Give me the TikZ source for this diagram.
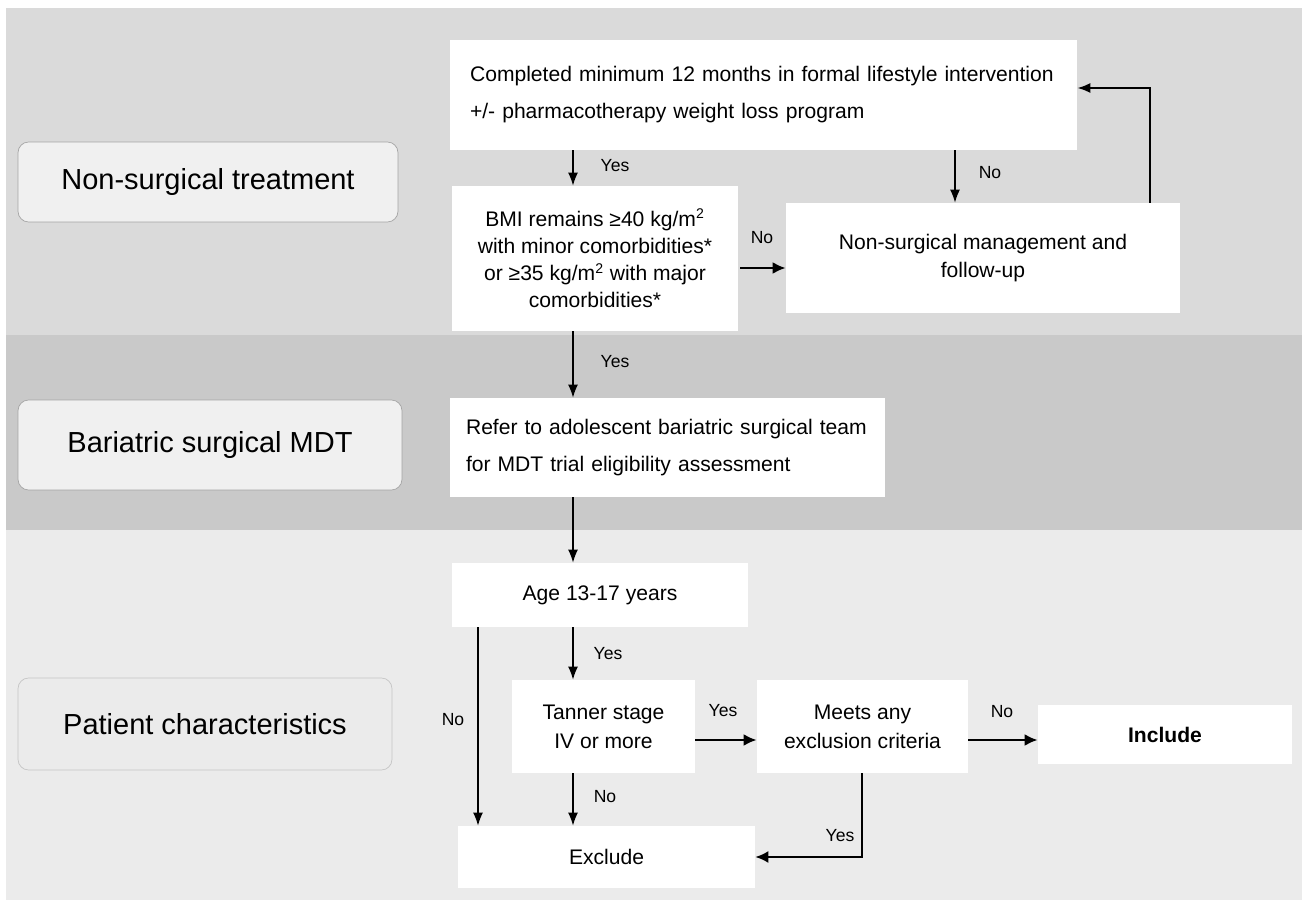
\documentclass[tikz,border=0pt]{standalone}
\usepackage{fontspec}
\setmainfont{Liberation Sans}
\usetikzlibrary{arrows.meta}
\definecolor{bandA}{HTML}{DADADA}
\definecolor{bandB}{HTML}{C9C9C9}
\definecolor{bandC}{HTML}{EBEBEB}
\begin{document}
\begin{tikzpicture}[x=0.02cm,y=-0.02cm,
  box/.style={rectangle,fill=white,inner sep=0pt,align=center,font=\fontsize{12}{15.4}\selectfont},
  phase/.style={rectangle,rounded corners=6pt,draw=gray!70,fill=gray!12,inner sep=0pt,font=\fontsize{16.5}{19}\selectfont},
  lbl/.style={font=\fontsize{10}{11}\selectfont,inner sep=1pt},
  arr/.style={-{Latex[length=2.6mm,width=2mm]},line width=0.8pt},
  harr/.style={-{Latex[length=2.6mm,width=2.4mm]},line width=1.6pt}]
\useasboundingbox (0,0) rectangle (1308,908);
% bands
\fill[bandA] (6,8) rectangle (1302,335);
\fill[bandB] (6,335) rectangle (1302,530);
\fill[bandC] (6,530) rectangle (1302,900);

% phases
\node[phase,minimum width=7.6cm,minimum height=1.6cm] (ph1) at (208,182) {Non-surgical treatment};
\node[phase,minimum width=7.68cm,minimum height=1.8cm] (ph2) at (210,445) {Bariatric surgical MDT};
\node[phase,draw=gray!45,fill=bandC,minimum width=7.48cm,minimum height=1.84cm] (ph3) at (205,724) {Patient characteristics};

% decisions
\node[box,minimum width=12.54cm,minimum height=2.2cm,text width=11.74cm,align=left,font=\fontsize{12}{21}\selectfont] (prog) at (763.5,95)
  {Completed minimum 12 months in formal lifestyle intervention\\ +/- pharmacotherapy weight loss program};
\node[box,minimum width=5.72cm,minimum height=2.9cm] (bmi) at (595,258.5)
  {BMI remains ≥40 kg/m\textsuperscript{2}\\ with minor comorbidities*\\ or ≥35 kg/m\textsuperscript{2} with major\\ comorbidities*};
\node[box,minimum width=7.88cm,minimum height=2.2cm,font=\fontsize{12}{16}\selectfont] (mgmt) at (983,258)
  {Non-surgical management and\\ follow-up};
\node[box,minimum width=8.7cm,minimum height=1.98cm,text width=8.06cm,align=left,font=\fontsize{12}{21}\selectfont] (refer) at (667.5,447.5)
  {Refer to adolescent bariatric surgical team\\ for MDT trial eligibility assessment};
\node[box,minimum width=5.92cm,minimum height=1.28cm] (age) at (600,595) {Age 13-17 years};
\node[box,minimum width=3.66cm,minimum height=1.86cm,font=\fontsize{12}{16.5}\selectfont] (tanner) at (603.5,726.5) {Tanner stage\\ IV or more};
\node[box,minimum width=4.22cm,minimum height=1.86cm,font=\fontsize{12}{16.5}\selectfont] (meets) at (862.5,726.5) {Meets any\\ exclusion criteria};
\node[box,minimum width=5.08cm,minimum height=1.18cm,font=\bfseries\fontsize{12}{15}\selectfont] (incl) at (1165,734.5) {Include};
\node[box,minimum width=5.94cm,minimum height=1.24cm] (excl) at (606.5,857) {Exclude};

% columns and corners
\coordinate (cA) at (573,0);
\coordinate (cB) at (955,0);
\coordinate (cC) at (478,0);
\coordinate (back) at (1150,88);
\coordinate (rowT) at (0,740);
\coordinate (rowE) at (862,857);

\draw[arr] (prog.south -| cA) -- (bmi.north -| cA);
\draw[arr] (prog.south -| cB) -- (mgmt.north -| cB);
\draw[harr] (bmi.east |- mgmt) ++(2,10) -- ([yshift=-10*0.02cm]mgmt.west);
\draw[arr,line width=1.2pt] (mgmt.north -| back) -- (back) -- (prog.east |- back);
\draw[arr] (bmi.south -| cA) -- (refer.north -| cA);
\draw[arr] (refer.south -| cA) -- (age.north -| cA);
\draw[arr] (age.south -| cA) -- (tanner.north -| cA);
\draw[arr] (age.south -| cC) -- (excl.north -| cC);
\draw[arr] (tanner.south -| cA) -- (excl.north -| cA);
\draw[harr] (tanner.east |- rowT) -- (meets.west |- rowT);
\draw[harr] (meets.east |- rowT) -- (incl.west |- rowT);
\draw[harr,line width=1.2pt] (meets.south -| rowE) -- (rowE) -- (excl.east |- rowE);

% answers
\node[lbl] (l1) at (615,166) {Yes};
\node[lbl] (l2) at (990,173) {No};
\node[lbl] (l3) at (762,238) {No};
\node[lbl] (l4) at (615,362) {Yes};
\node[lbl] (l5) at (608,654) {Yes};
\node[lbl] (l6) at (453,720) {No};
\node[lbl] (l7) at (605,797) {No};
\node[lbl] (l8) at (723,711) {Yes};
\node[lbl] (l9) at (1002,712) {No};
\node[lbl] (l10) at (840,836) {Yes};
\end{tikzpicture}
\end{document}
